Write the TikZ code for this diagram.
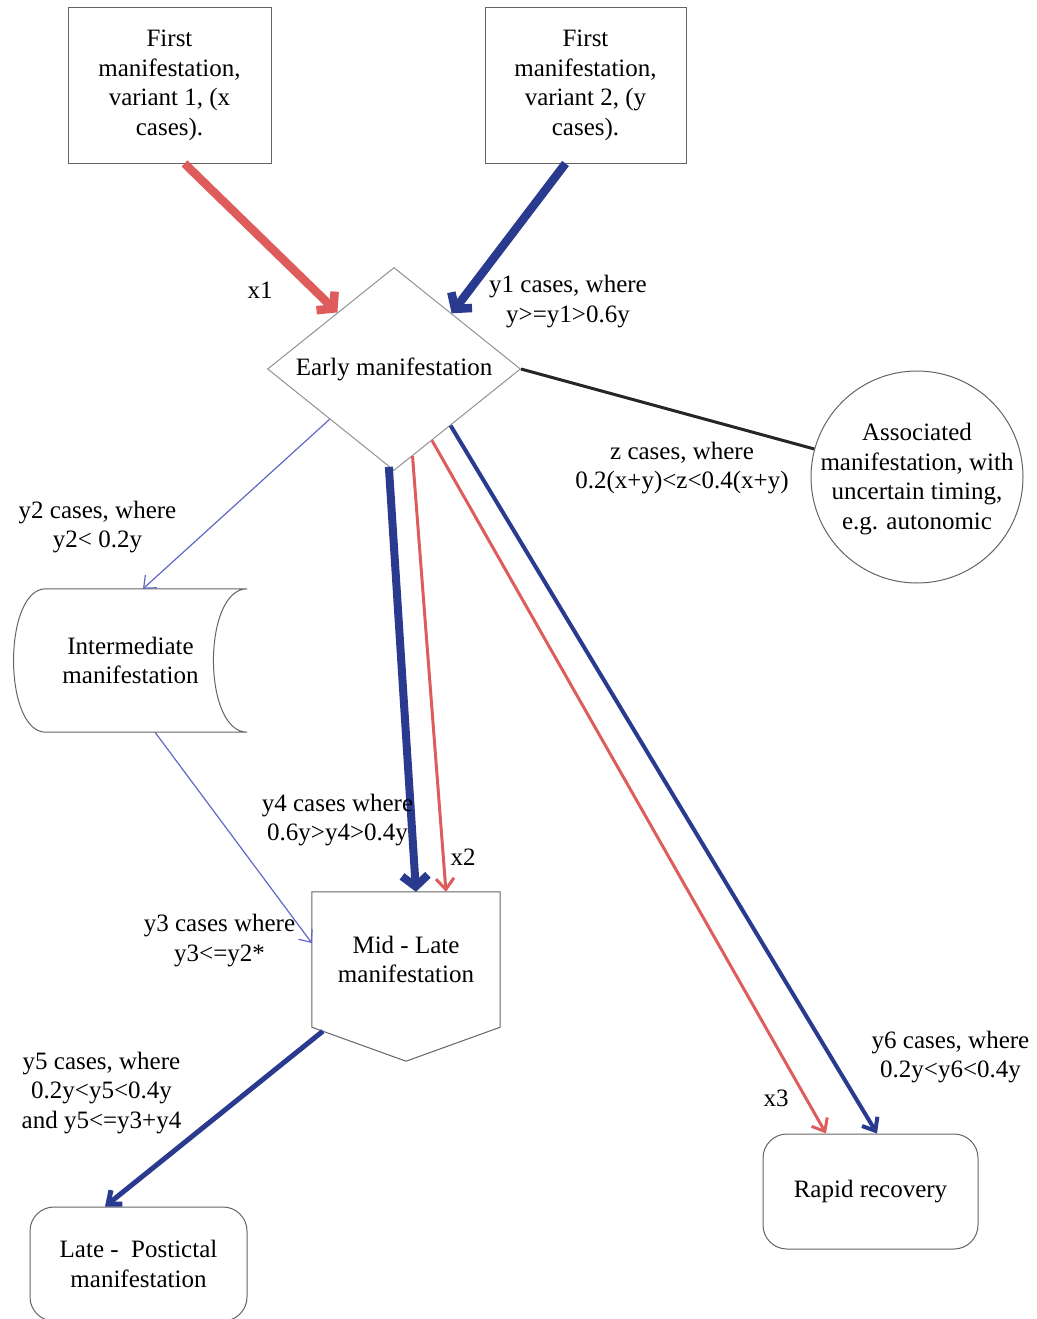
\documentclass[tikz,border=0pt]{standalone}
\usepackage{fontspec}
\setmainfont{Liberation Serif}
\usepackage{xcolor}
\usepackage{tikz}
\usetikzlibrary{shapes.geometric, arrows.meta}

\definecolor{redflow}{RGB}{222,92,92}
\definecolor{blueflow}{RGB}{42,58,142}
\definecolor{thinblue}{RGB}{96,104,198}
\definecolor{edgegray}{RGB}{100,100,100}

\begin{document}
\begin{tikzpicture}[x=1pt, y=-1pt,
    every node/.style={font=\fontsize{25}{29.5}\selectfont},
    txt/.style={align=center, inner sep=0pt},
    box/.style={draw=edgegray, line width=1pt, align=center, inner sep=0pt},
    outline/.style={draw=edgegray, line width=1pt},
    bigflow/.style={line width=8.5pt, -{Straight Barb[length=11pt, width=26pt]}},
    midflow/.style={-{Straight Barb[length=11pt, width=18pt]}},
    thinflow/.style={draw=thinblue, line width=1.2pt, -{Straight Barb[length=10pt, width=17pt]}}]

    % page frame
    \useasboundingbox (0,0) rectangle (1036,1319);

    % =================================================================
    % FIRST MANIFESTATIONS (TOP)
    % =================================================================
    \node[box, minimum width=203pt, minimum height=155pt] (first1) at (169.5,85.5)
        {First\\manifestation,\\variant 1, (x\\cases).};
    \node[box, minimum width=201pt, minimum height=155pt] (first2) at (585.5,85.5)
        {First\\manifestation,\\variant 2, (y\\cases).};

    % =================================================================
    % EARLY MANIFESTATION AND ASSOCIATED CIRCLE
    % =================================================================
    \node[box, draw=edgegray!70, diamond, aspect=1.25, minimum width=253pt, minimum height=203pt] (early) at (394,369)
        {Early manifestation};
    \node[box, circle, minimum size=212pt] (assoc) at (917,477) {};
    \node[txt] (assoctxt) at (917,479) {Associated\\manifestation, with\\uncertain timing,\\e.g. autonomic};

    % =================================================================
    % INTERMEDIATE, MID - LATE, LATE - POSTICTAL, RAPID RECOVERY
    % =================================================================
    % stored data shape
    \node[txt, minimum width=233pt, minimum height=143pt] (inter) at (130.5,660.5)
        {Intermediate\\manifestation};
    \draw[outline] ([xshift=32pt]inter.north west) -- (inter.north east)
        .. controls +(-45,0) and +(-45,0) .. (inter.south east)
        -- ([xshift=32pt]inter.south west)
        .. controls +(-43,0) and +(-43,0) .. ([xshift=32pt]inter.north west);

    % pentagon pointing down
    \node[txt, minimum width=188pt, minimum height=135pt] (midlate) at (406,959.5)
        {Mid - Late\\manifestation};
    \draw[outline] (midlate.north west) -- (midlate.north east) -- (midlate.south east)
        -- ([yshift=-34pt]midlate.south) -- (midlate.south west) -- cycle;

    \node[box, rounded corners=24pt, minimum width=217pt, minimum height=114pt] (late) at (138.5,1264)
        {Late -\ \ Postictal\\manifestation};
    \node[box, rounded corners=24pt, minimum width=215pt, minimum height=115pt] (rapid) at (870.5,1191.5)
        {Rapid recovery};

    % =================================================================
    % FLOWS
    % =================================================================
    \draw[bigflow, redflow] ([xshift=15pt]first1.south) -- (early.135);
    \draw[bigflow, blueflow] ([xshift=-20pt]first2.south) -- (early.44);
    \draw[line width=3pt, black!85] (early.east) -- (assoc);

    \draw[thinflow] (early.218) -- ([xshift=12.5pt]inter.north);
    \draw[thinflow] ([xshift=24.5pt]inter.south) -- ([yshift=16.5pt]midlate.west);

    \draw[bigflow, blueflow, line width=8pt] (early.-93) -- ([xshift=10pt]midlate.north);
    \draw[midflow, redflow, line width=3pt] (early.-78) -- ([xshift=40pt]midlate.north);
    \draw[midflow, redflow, line width=3pt] (early.-62) -- ([xshift=-44.5pt]rapid.north);
    \draw[midflow, blueflow, line width=4pt] (early.-45) -- ([xshift=6.5pt]rapid.north);
    \draw[midflow, blueflow, line width=5pt] ([shift={(11pt,-4pt)}]midlate.south west) -- ([xshift=-33.5pt]late.north);

    % labels on the flows
    \node[txt] (lx1) at (260,290) {x1};
    \node[txt] (ly1) at (568,301.5) {y1 cases, where\\y>=y1>0.6y};
    \node[txt] (lz) at (682,468) {z cases, where\\0.2(x+y)<z<0.4(x+y)};
    \node[txt] (ly2) at (97.5,527) {y2 cases, where\\y2< 0.2y};
    \node[txt] (ly4) at (337.5,820) {y4 cases where\\0.6y>y4>0.4y};
    \node[txt] (lx2) at (463,857) {x2};
    \node[txt] (ly3) at (219.5,940.5) {y3 cases where\\y3<=y2*};
    \node[txt] (ly5) at (101.5,1093) {y5 cases, where\\0.2y<y5<0.4y\\and y5<=y3+y4};
    \node[txt] (ly6) at (950.5,1057) {y6 cases, where\\0.2y<y6<0.4y};
    \node[txt] (lx3) at (776,1098) {x3};

\end{tikzpicture}
\end{document}
